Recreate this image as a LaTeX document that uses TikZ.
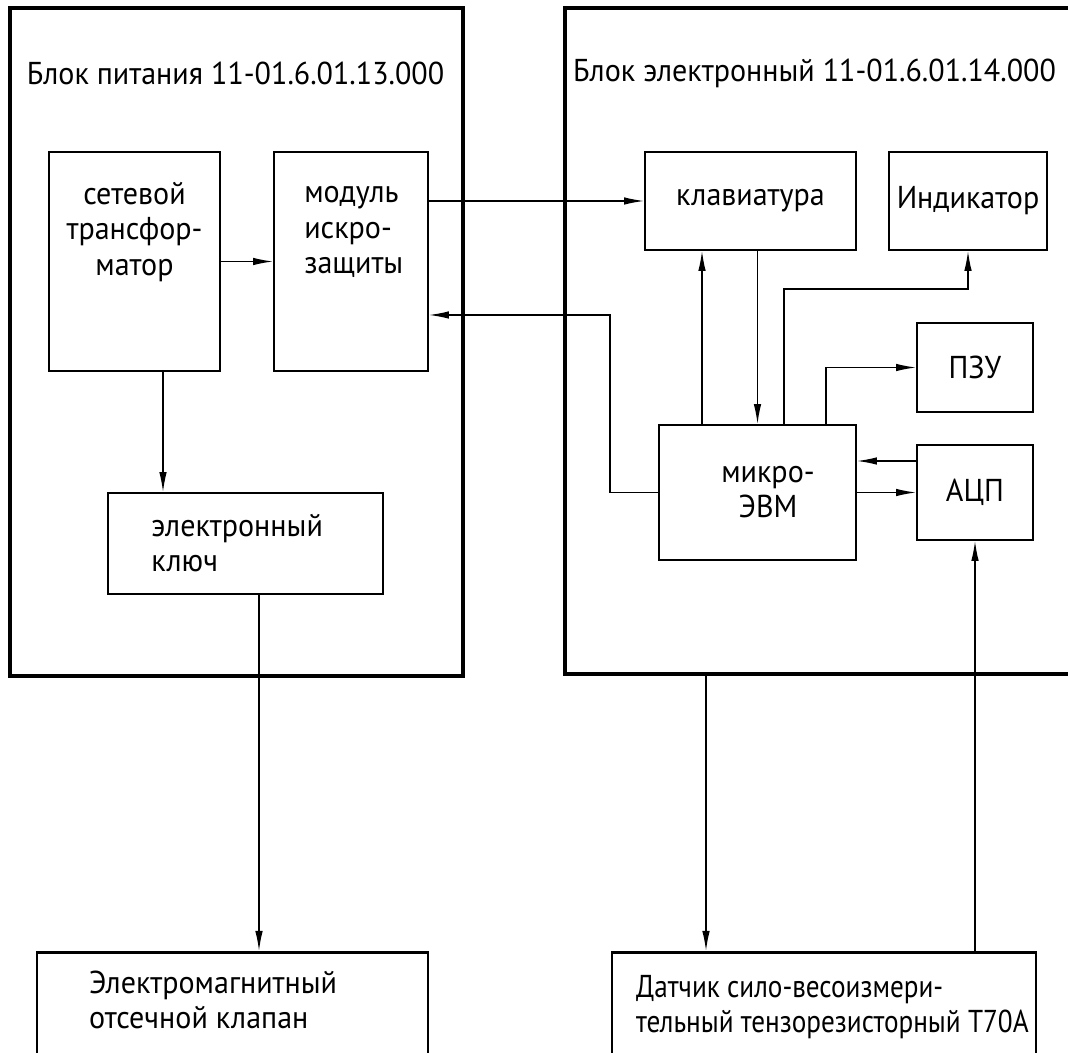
\documentclass[tikz,border=0pt]{standalone}
\usepackage{fontspec}
\setmainfont[FakeStretch=0.95]{PT Sans}
\newfontfamily\narrowfont[FakeStretch=0.86]{PT Sans}
\usetikzlibrary{arrows.meta}

\begin{document}
\begin{tikzpicture}[
  font=\fontsize{18}{20}\selectfont,
  frame/.style={line width=2.2pt},
  blk/.style={draw, line width=1pt, inner sep=0pt},
  wire/.style={line width=0.8pt, -{Latex[length=4mm,width=1.5mm]}},
  ]
\useasboundingbox (0,0) rectangle (21.36,21.04);
% the two units
\draw[frame] (0.2,7.52) rectangle (9.26,20.88);
\draw[frame] (11.3,7.56) rectangle (21.9,20.88);
\node (ttl1) at (4.71,19.58) {Блок питания 11-01.6.01.13.000};
\node (ttl2) at (16.29,19.58) {Блок электронный 11-01.6.01.14.000};

% power supply
\node[blk, minimum width=3.42cm, minimum height=4.38cm] (trans) at (2.69,15.81) {};
\node[align=center] (transtxt) at (2.69,16.4) {сетевой\\трансфор-\\матор};
\node[blk, minimum width=3.08cm, minimum height=4.38cm] (mod) at (7.02,15.81) {};
\node[align=left, anchor=west] (modtxt) at ([xshift=0.5cm]mod.west |- transtxt) {модуль\\искро-\\защиты};
\node[blk, minimum width=5.5cm, minimum height=2.02cm] (key) at (4.91,10.17) {};
\node[align=left, anchor=west] (keytxt) at ([xshift=0.76cm]key.west) {электронный\\ключ};

% electronic unit
\node[blk, minimum width=4.22cm, minimum height=1.96cm] (klav) at (15.01,17.02) {клавиатура};
\node[blk, minimum width=3.16cm, minimum height=1.96cm] (ind) at (19.36,17.02) {Индикатор};
\node[blk, minimum width=2.32cm, minimum height=1.78cm] (pzu) at (19.5,13.69) {ПЗУ};
\node[blk, minimum width=3.94cm, minimum height=2.7cm] (evm) at (15.15,11.19) {};
\node[align=center] (evmtxt) at ([xshift=0.21cm]evm.center) {микро-\\ЭВМ};
\node[blk, minimum width=2.32cm, minimum height=1.9cm] (adc) at (19.5,11.19) {АЦП};

% outside devices
\node[blk, line width=1.6pt, minimum width=7.82cm, minimum height=2.3cm, anchor=north] (valve) at (4.65,2.02) {};
\node[align=left, anchor=west] (valvetxt) at (1.66,1.04) {Электромагнитный\\отсечной клапан};
\node[blk, line width=1.6pt, minimum width=8.48cm, minimum height=2.3cm, anchor=north] (sensor) at (16.48,2.02) {};
\node[align=left, anchor=west, font=\narrowfont\fontsize{18}{20}\selectfont] (sensortxt) at (12.6,0.9) {Датчик сило-весоизмери-\\тельный тензорезисторный Т70А};

% links
\coordinate (ret) at (12.2,14.74);
\coordinate (out) at (14.12,7.56);
\draw[wire] (trans) -- (mod);
\draw[wire] (mod.east |- klav) -- (klav.west);
\draw[wire] (evm.west) -| (ret) -- (mod.east |- ret);
\draw[wire] ([xshift=-1.11cm]evm.north) -- ([xshift=-1.11cm]evm.north |- klav.south);
\draw[wire] (klav.south -| evm.north) -- (evm.north);
\draw[wire] ([xshift=0.53cm]evm.north) -- ++(0,2.7) -| (ind.south);
\draw[wire] ([xshift=1.37cm]evm.north) |- (pzu.west);
\draw[wire] ([yshift=0.63cm]adc.west) -- ([yshift=0.63cm]adc.west -| evm.east);
\draw[wire] (evm.east) -- (adc.west);
\draw[wire] ([xshift=0.57cm]trans.south) -- ([xshift=0.57cm]trans.south |- key.north);
\draw[wire] ([xshift=0.27cm]key.south) -- ([xshift=0.27cm]key.south |- valve.north);
\draw[wire] (out) -- (out |- sensor.north);
\draw[wire] (sensor.north -| adc.south) -- (adc.south);
\end{tikzpicture}
\end{document}
